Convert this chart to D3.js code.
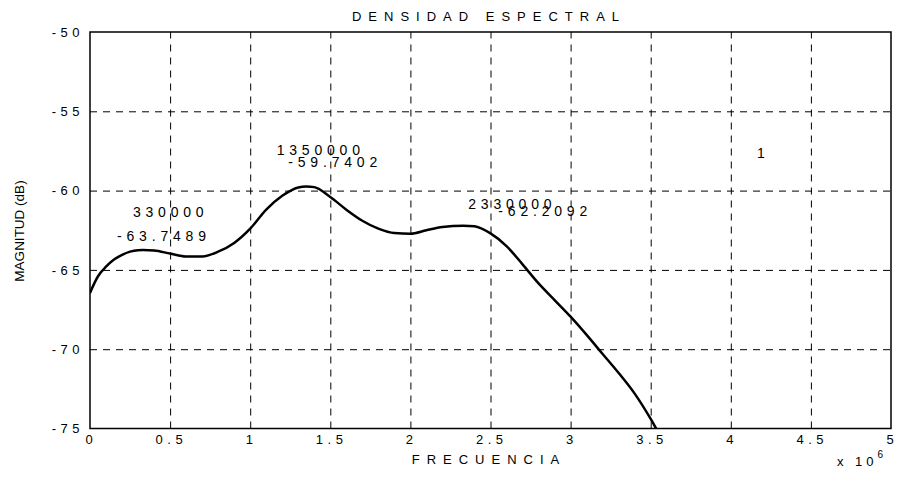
<!DOCTYPE html>
<html>
<head>
<meta charset="utf-8">
<script src="https://d3js.org/d3.v7.min.js"></script>
<style>
body { margin: 0; background: #fff; }
text { font-family: "Liberation Sans", Arial, sans-serif; fill: #000; }
</style>
</head>
<body>
<div id="chart"></div>
<script>
var width = 900;
var height = 480;
var margin = {top: 32, right: 9, bottom: 51.5, left: 90};

// spectral density curve (Hz, dB)
var freq = [0, 0.05e6, 0.1e6, 0.15e6, 0.2e6, 0.25e6, 0.3e6, 0.33e6, 0.4e6, 0.5e6,
  0.6e6, 0.7e6, 0.8e6, 0.9e6, 1.0e6, 1.1e6, 1.2e6, 1.3e6, 1.35e6, 1.4e6,
  1.5e6, 1.6e6, 1.7e6, 1.8e6, 1.9e6, 2.0e6, 2.1e6, 2.2e6, 2.33e6, 2.4e6,
  2.5e6, 2.6e6, 2.7e6, 2.8e6, 2.9e6, 3.0e6, 3.1e6, 3.2e6, 3.3e6, 3.4e6,
  3.5e6, 3.55e6];
var mag = [-66.45, -65.4, -64.8, -64.35, -64.05, -63.85, -63.76, -63.75, -63.78, -63.97,
  -64.15, -64.15, -63.85, -63.3, -62.4, -61.2, -60.33, -59.8, -59.74, -59.78,
  -60.4, -61.2, -61.9, -62.4, -62.68, -62.72, -62.5, -62.3, -62.21, -62.25,
  -62.7, -63.5, -64.65, -65.85, -66.9, -67.95, -69.1, -70.3, -71.5, -72.8,
  -74.4, -75.3];

var xTicks = [0, 0.5e6, 1e6, 1.5e6, 2e6, 2.5e6, 3e6, 3.5e6, 4e6, 4.5e6, 5e6];
var xTickLabels = ["0", "0.5", "1", "1.5", "2", "2.5", "3", "3.5", "4", "4.5", "5"];
var yTicks = [-75, -70, -65, -60, -55, -50];
var yTickLabels = ["-75", "-70", "-65", "-60", "-55", "-50"];

// text annotations placed in data coordinates
var noteText = ["330000", "-63.7489", "1350000", "-59.7402", "2330000", "-62.2092", "1"];
var noteX = [0.268e6, 0.169e6, 1.165e6, 1.238e6, 2.361e6, 2.549e6, 4.164e6];
var noteY = [-61.35, -62.87, -57.44, -58.22, -60.85, -61.29, -57.63];

var svg = d3.select("#chart").append("svg")
  .attr("width", width)
  .attr("height", height);

var x = d3.scaleLinear().domain([0, 5e6]).range([margin.left, width - margin.right]);
var y = d3.scaleLinear().domain([-75, -50]).range([height - margin.bottom, margin.top]);

var iw = width - margin.left - margin.right;
var ih = height - margin.top - margin.bottom;

// dashed grid
svg.append("g")
  .attr("transform", "translate(0," + (height - margin.bottom) + ")")
  .call(d3.axisBottom(x).tickValues(xTicks.slice(1, -1)).tickSize(-ih).tickFormat(""))
  .call(function (g) {
    g.select(".domain").remove();
    g.selectAll("line").attr("stroke", "#000").attr("stroke-width", 1).attr("stroke-dasharray", "7,6");
  });
svg.append("g")
  .attr("transform", "translate(" + margin.left + ",0)")
  .call(d3.axisLeft(y).tickValues(yTicks.slice(1, -1)).tickSize(-iw).tickFormat(""))
  .call(function (g) {
    g.select(".domain").remove();
    g.selectAll("line").attr("stroke", "#000").attr("stroke-width", 1).attr("stroke-dasharray", "7,6");
  });

// tick labels
svg.append("g")
  .attr("transform", "translate(0," + (height - margin.bottom) + ")")
  .call(d3.axisBottom(x).tickValues(xTicks).tickSize(0).tickPadding(6)
    .tickFormat(function (d, i) { return xTickLabels[i]; }))
  .call(function (g) {
    g.select(".domain").remove();
    g.selectAll("text").attr("font-size", 13).attr("letter-spacing", 4.5)
      .attr("font-family", "Liberation Sans, Arial, sans-serif")
      .attr("dx", 0.8);
  });
svg.append("g")
  .attr("transform", "translate(" + margin.left + ",0)")
  .call(d3.axisLeft(y).tickValues(yTicks).tickSize(0).tickPadding(6)
    .tickFormat(function (d, i) { return yTickLabels[i]; }))
  .call(function (g) {
    g.select(".domain").remove();
    g.selectAll("text").attr("font-size", 13).attr("letter-spacing", 4.5)
      .attr("font-family", "Liberation Sans, Arial, sans-serif");
  });

// curve
var pts = freq.map(function (f, i) { return [f, mag[i]]; });
svg.append("clipPath").attr("id", "clip")
  .append("rect").attr("x", margin.left).attr("y", margin.top).attr("width", iw).attr("height", ih);

svg.append("path")
  .datum(pts)
  .attr("clip-path", "url(#clip)")
  .attr("fill", "none")
  .attr("stroke", "#000")
  .attr("stroke-width", 2.5)
  .attr("stroke-linejoin", "round")
  .attr("d", d3.line().x(function (d) { return x(d[0]); }).y(function (d) { return y(d[1]); })
    .curve(d3.curveMonotoneX));

// frame
svg.append("rect")
  .attr("x", margin.left).attr("y", margin.top)
  .attr("width", iw).attr("height", ih)
  .attr("fill", "none").attr("stroke", "#000").attr("stroke-width", 1.5);

// annotations
svg.append("g").selectAll("text")
  .data(noteText)
  .enter().append("text")
  .attr("x", function (d, i) { return x(noteX[i]); })
  .attr("y", function (d, i) { return y(noteY[i]); })
  .attr("dy", "0.35em")
  .attr("font-size", 14)
  .attr("letter-spacing", 4.8)
  .text(function (d) { return d; });

// titles
svg.append("text")
  .attr("x", 489).attr("y", 16).attr("dy", "0.35em")
  .attr("text-anchor", "middle")
  .attr("font-size", 13).attr("letter-spacing", 7)
  .text("DENSIDAD ESPECTRAL");

svg.append("text")
  .attr("x", 489).attr("y", 459).attr("dy", "0.35em")
  .attr("text-anchor", "middle")
  .attr("font-size", 13).attr("letter-spacing", 7)
  .text("FRECUENCIA");

svg.append("text")
  .attr("transform", "translate(19,231) rotate(-90)")
  .attr("dy", "0.35em")
  .attr("text-anchor", "middle")
  .attr("font-size", 13.5)
  .text("MAGNITUD (dB)");

var expo = svg.append("text")
  .attr("x", 837).attr("y", 466)
  .attr("font-size", 13).attr("letter-spacing", 4);
expo.append("tspan").text("x 10");
expo.append("tspan").attr("dy", -8).attr("font-size", 10).text("6");
</script>
</body>
</html>
